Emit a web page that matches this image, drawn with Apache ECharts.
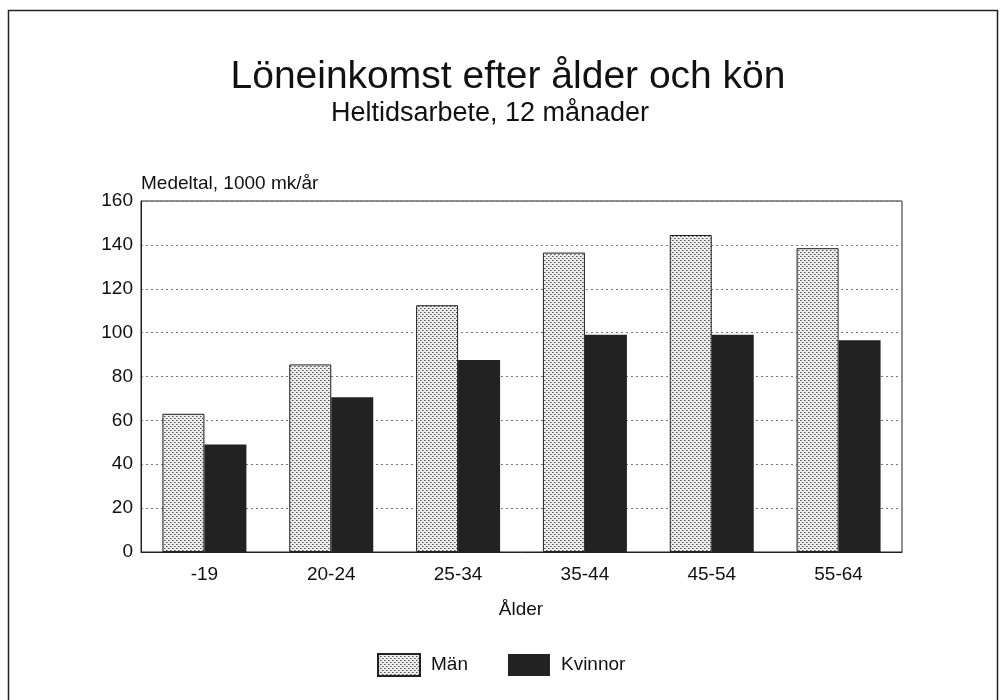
<!DOCTYPE html>
<html>
<head>
<meta charset="utf-8">
<script src="https://cdn.jsdelivr.net/npm/echarts@6/dist/echarts.min.js"></script>
<style>
    html, body { margin: 0; padding: 0; background: #fff; }
    #chart { width: 1001px; height: 700px; }
</style>
</head>
<body>
<div id="chart"></div>
<script>
    var ageGroups = ['-19', '20-24', '25-34', '35-44', '45-54', '55-64'];
    var menValues = [63, 85.5, 112.5, 136.5, 144.5, 138.5];
    var womenValues = [49, 70.5, 87.5, 99, 99, 96.5];
    var seriesNames = ['Män', 'Kvinnor'];

    var FONT = '"Liberation Sans", Arial, sans-serif';

    //prickigt mönster för män
    var dots = document.createElement('canvas');
    dots.width = 4;
    dots.height = 4;
    var ctx = dots.getContext('2d');
    ctx.fillStyle = '#ececec';
    ctx.fillRect(0, 0, 4, 4);
    ctx.fillStyle = '#555';
    ctx.fillRect(0, 0, 1, 1);
    ctx.fillRect(2, 2, 1, 1);
    ctx.fillStyle = '#999';
    ctx.fillRect(1, 0, 1, 1);
    ctx.fillRect(3, 2, 1, 1);

    var chart = echarts.init(document.getElementById('chart'), null, { renderer: 'canvas' });

    var option = {
        animation: false,
        backgroundColor: '#fff',
        textStyle: { fontFamily: FONT, color: '#111' },
        graphic: [
            {
                type: 'rect',
                shape: { x: 8.5, y: 10.5, width: 989, height: 700 },
                style: { fill: 'none', stroke: '#222', lineWidth: 1.5 },
                z: 100
            },
            {
                type: 'text', x: 508, y: 77,
                style: { text: 'Löneinkomst efter ålder och kön', font: '39px ' + FONT, fill: '#111', align: 'center', verticalAlign: 'middle' }
            },
            {
                type: 'text', x: 490, y: 114,
                style: { text: 'Heltidsarbete, 12 månader', font: '27px ' + FONT, fill: '#111', align: 'center', verticalAlign: 'middle' }
            },
            {
                type: 'text', x: 141, y: 184,
                style: { text: 'Medeltal, 1000 mk/år', font: '19px ' + FONT, fill: '#111', align: 'left', verticalAlign: 'middle' }
            },
            {
                type: 'text', x: 521, y: 610,
                style: { text: 'Ålder', font: '19px ' + FONT, fill: '#111', align: 'center', verticalAlign: 'middle' }
            }
        ],
        legend: {
            data: seriesNames,
            left: 377,
            top: 653,
            padding: 0,
            itemWidth: 42,
            itemHeight: 22,
            itemGap: 40,
            icon: 'rect',
            textStyle: { fontFamily: FONT, fontSize: 19, color: '#111', padding: [0, 0, 0, 6] }
        },
        grid: {
            left: 141,
            right: 99,
            top: 201,
            bottom: 148,
            show: true,
            borderColor: '#222',
            borderWidth: 1,
            containLabel: false
        },
        xAxis: {
            type: 'category',
            data: ageGroups,
            axisLine: { lineStyle: { color: '#222', width: 1 } },
            axisTick: { alignWithLabel: true, length: 8, lineStyle: { color: '#222' } },
            axisLabel: { fontFamily: FONT, fontSize: 19, color: '#111', margin: 13 },
            splitLine: { show: false }
        },
        yAxis: {
            type: 'value',
            min: 0,
            max: 160,
            interval: 20,
            axisLine: { show: true, lineStyle: { color: '#222', width: 1 } },
            axisTick: { show: false },
            axisLabel: { fontFamily: FONT, fontSize: 19, color: '#111', margin: 8 },
            splitLine: { lineStyle: { color: '#777', type: [2, 3], width: 1 } }
        },
        series: [
            {
                name: seriesNames[0],
                type: 'bar',
                barWidth: 42,
                barGap: '0%',
                data: menValues,
                itemStyle: {
                    color: { image: dots, repeat: 'repeat' },
                    borderColor: '#222',
                    borderWidth: 1
                }
            },
            {
                name: seriesNames[1],
                type: 'bar',
                barWidth: 42,
                data: womenValues,
                itemStyle: {
                    color: '#222',
                    borderWidth: 0
                }
            }
        ]
    };
    chart.setOption(option);
</script>
</body>
</html>
